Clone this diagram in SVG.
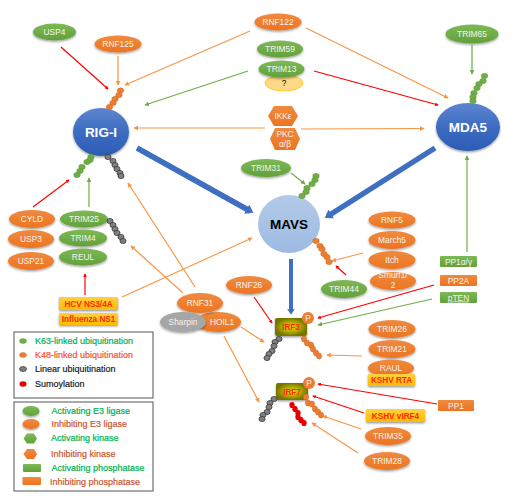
<svg xmlns="http://www.w3.org/2000/svg" width="511" height="500" viewBox="0 0 511 500">
<style>
text{font-family:"Liberation Sans",Arial,sans-serif;text-anchor:middle}
.w{fill:#f4f4ee;font-size:8.4px}
.big{fill:#fff;font-size:13.5px;font-weight:bold}
.y{fill:#ff2a00;font-size:8.2px;font-weight:bold}
.g{fill:url(#gg)}.o{fill:url(#go)}.h{fill:url(#gh)}
.s{filter:url(#sh)}
.gc{fill:#70ad47;stroke:#5b9238;stroke-width:.4}.oc{fill:#ed7d31;stroke:#c8641f;stroke-width:.4}.kc{fill:#7f7f7f;stroke:#333;stroke-width:.7}.rc{fill:#e60000}
.lo{stroke:#f79646;stroke-width:1.2;marker-end:url(#mo)}
.lg{stroke:#70ad47;stroke-width:1.2;marker-end:url(#mg)}
.lr{stroke:#ff0000;stroke-width:1.2;marker-end:url(#mr)}
.lb{stroke:#3f6fc1;stroke-width:5.5;marker-end:url(#mb)}
.box{fill:#fff;stroke:#555;stroke-width:1}
.lt,.lf{font-size:9px;text-anchor:start;stroke-width:.2}
.wavy{text-decoration:underline wavy #e04040}
</style>
<defs>
<linearGradient id="gg" x1="0" y1="0" x2="0" y2="1"><stop offset="0" stop-color="#7dba55"/><stop offset="1" stop-color="#62a03c"/></linearGradient>
<linearGradient id="go" x1="0" y1="0" x2="0" y2="1"><stop offset="0" stop-color="#f08a3e"/><stop offset="1" stop-color="#ec7422"/></linearGradient>
<linearGradient id="gh" x1="0" y1="0" x2="0" y2="1"><stop offset="0" stop-color="#ffd040"/><stop offset="1" stop-color="#ffbb00"/></linearGradient>
<linearGradient id="gblue" x1="0" y1="0" x2="0" y2="1"><stop offset="0" stop-color="#5d85ce"/><stop offset=".5" stop-color="#3c6cc2"/><stop offset="1" stop-color="#2d5cb4"/></linearGradient>
<linearGradient id="gmavs" x1="0" y1="0" x2="0" y2="1"><stop offset="0" stop-color="#b3cae8"/><stop offset="1" stop-color="#9dbbe2"/></linearGradient>
<radialGradient id="girf"><stop offset="0" stop-color="#e8e000"/><stop offset=".6" stop-color="#a8a400"/><stop offset="1" stop-color="#767400"/></radialGradient>
<filter id="sh" x="-20%" y="-20%" width="140%" height="150%"><feDropShadow dx="0" dy="1.3" stdDeviation="0.9" flood-color="#000" flood-opacity=".4"/></filter>
<marker id="mo" markerWidth="4" markerHeight="4" refX="3.4" refY="2" orient="auto"><path d="M0 0L4 2L0 4z" fill="#f79646"/></marker>
<marker id="mg" markerWidth="4" markerHeight="4" refX="3.4" refY="2" orient="auto"><path d="M0 0L4 2L0 4z" fill="#70ad47"/></marker>
<marker id="mr" markerWidth="3" markerHeight="3" refX="2.4" refY="1.5" orient="auto"><path d="M0 0L3 1.500L0 3z" fill="#ff0000"/></marker>
<marker id="mb" markerWidth="1.4" markerHeight="1.9" viewBox="0 0 2 3" preserveAspectRatio="none" refX="1" refY="1.5" orient="auto"><path d="M0 0L2 1.5L0 3z" fill="#3f6fc1"/></marker>
</defs>
<rect width="511" height="500" fill="#fff"/>
<g id="connectors">
<line class="lr" x1="61" y1="47" x2="108" y2="89"/>
<line class="lo" x1="118" y1="56" x2="118" y2="85"/>
<line class="lo" x1="250" y1="31" x2="125" y2="85"/>
<line class="lg" x1="248" y1="71" x2="145" y2="105"/>
<line class="lo" x1="265" y1="128" x2="134" y2="128"/>
<line class="lo" x1="301" y1="129" x2="424" y2="128.5"/>
<line class="lo" x1="306" y1="28" x2="448" y2="98"/>
<line class="lr" x1="314" y1="71" x2="438" y2="105"/>
<line class="lg" x1="472" y1="45" x2="472" y2="74"/>
<line class="lg" x1="467" y1="252" x2="467" y2="156"/>
<line class="lb" x1="137" y1="148" x2="250" y2="211"/>
<line class="lb" x1="435" y1="148" x2="328" y2="216"/>
<line class="lb" style="stroke-width:4" x1="291" y1="259" x2="291" y2="312"/>
<line class="lg" x1="291" y1="173" x2="305" y2="184"/>
<line class="lo" x1="363" y1="253" x2="332" y2="261"/>
<line class="lr" x1="346" y1="275" x2="336" y2="266"/>
<line class="lr" x1="434" y1="285" x2="318" y2="318"/>
<line class="lg" x1="432" y1="299" x2="318" y2="325"/>
<line class="lr" x1="254" y1="297" x2="272" y2="323"/>
<line class="lr" x1="33" y1="207" x2="69" y2="180"/>
<line class="lg" x1="89" y1="207" x2="89" y2="178"/>
<line class="lr" x1="85" y1="295" x2="85" y2="274"/>
<line class="lo" x1="122" y1="297" x2="252" y2="238"/>
<line class="lo" x1="195" y1="287" x2="128" y2="183"/>
<line class="lo" x1="183" y1="293" x2="131" y2="246"/>
<line class="lo" x1="241" y1="327" x2="264" y2="342"/>
<line class="lo" x1="224" y1="336" x2="259" y2="402"/>
<line class="lo" x1="362" y1="356" x2="327" y2="355"/>
<line class="lr" x1="437" y1="404" x2="318" y2="384"/>
<line class="lr" x1="364" y1="413" x2="313" y2="396"/>
<line class="lo" x1="361" y1="429" x2="323" y2="416"/>
<line class="lo" x1="358" y1="453" x2="312" y2="423"/>
</g>
<g id="rigi"><ellipse cx="101" cy="132" rx="28" ry="24" fill="url(#gblue)" class="s"/><text class="big" x="101" y="137">RIG-I</text>
<g class="oc"><ellipse cx="120.5" cy="90.5" rx="3.3" ry="2.7"/><ellipse cx="119" cy="95" rx="3.3" ry="2.7"/><ellipse cx="115" cy="99" rx="3.3" ry="2.7"/><ellipse cx="113" cy="103" rx="3.3" ry="2.7"/><ellipse cx="109.5" cy="107" rx="3.3" ry="2.7"/></g>
<g class="gc"><ellipse cx="91" cy="157" rx="3.3" ry="2.7"/><ellipse cx="90" cy="160" rx="3.3" ry="2.7"/><ellipse cx="87" cy="162" rx="3.3" ry="2.7"/><ellipse cx="82" cy="167" rx="3.3" ry="2.7"/><ellipse cx="80" cy="171" rx="3.3" ry="2.7"/><ellipse cx="77" cy="175" rx="3.3" ry="2.7"/></g>
<g class="kc"><ellipse cx="108" cy="157" rx="3.1" ry="2.6"/><ellipse cx="113" cy="161" rx="3.1" ry="2.6"/><ellipse cx="115" cy="165" rx="3.1" ry="2.6"/><ellipse cx="117" cy="169" rx="3.1" ry="2.6"/><ellipse cx="120" cy="173" rx="3.1" ry="2.6"/><ellipse cx="121" cy="176" rx="3.1" ry="2.6"/></g></g>
<g id="mda5"><ellipse cx="468" cy="127" rx="32" ry="24" fill="url(#gblue)" class="s"/><text class="big" x="468" y="132">MDA5</text>
<g class="gc"><ellipse cx="484.5" cy="76" rx="3.3" ry="2.7"/><ellipse cx="483" cy="81" rx="3.3" ry="2.7"/><ellipse cx="479" cy="84" rx="3.3" ry="2.7"/><ellipse cx="477" cy="88" rx="3.3" ry="2.7"/><ellipse cx="474" cy="93" rx="3.3" ry="2.7"/><ellipse cx="473" cy="97" rx="3.3" ry="2.7"/><ellipse cx="473" cy="101" rx="3.3" ry="2.7"/></g></g>
<g id="mavs"><ellipse cx="289" cy="224" rx="31" ry="29" fill="url(#gmavs)"/><text class="big" x="289" y="229" style="fill:#000">MAVS</text>
<g class="gc"><ellipse cx="316" cy="176" rx="3.3" ry="2.7"/><ellipse cx="315" cy="180" rx="3.3" ry="2.7"/><ellipse cx="312" cy="184" rx="3.3" ry="2.7"/><ellipse cx="307" cy="188" rx="3.3" ry="2.7"/><ellipse cx="306" cy="192" rx="3.3" ry="2.7"/><ellipse cx="302" cy="196" rx="3.3" ry="2.7"/></g>
<g class="oc"><ellipse cx="316" cy="241" rx="3.3" ry="2.7"/><ellipse cx="320" cy="246" rx="3.3" ry="2.7"/><ellipse cx="322" cy="249" rx="3.3" ry="2.7"/><ellipse cx="324" cy="254" rx="3.3" ry="2.7"/><ellipse cx="327" cy="257" rx="3.3" ry="2.7"/><ellipse cx="329" cy="262" rx="3.3" ry="2.7"/></g></g>
<g id="usp4"><ellipse class="g s" cx="54.5" cy="32" rx="21.5" ry="8.5"/><text class="w" x="54.5" y="35">USP4</text></g>
<g id="rnf125"><ellipse class="o s" cx="118" cy="44" rx="23.5" ry="8.5"/><text class="w" x="118" y="47">RNF125</text></g>
<g id="rnf122"><ellipse class="o s" cx="278" cy="22" rx="23.5" ry="8.5"/><text class="w" x="278" y="25">RNF122</text></g>
<g id="trim59"><ellipse class="g s" cx="280" cy="49" rx="23" ry="8.5"/><text class="w" x="280" y="52">TRIM59</text></g>
<g id="unknown"><ellipse cx="284" cy="83" rx="19" ry="8" fill="#ffd98a" stroke="#ffc000" stroke-width=".8"/><text x="284" y="86" font-size="8.2" fill="#000">?</text></g>
<g id="trim13"><ellipse class="g s" cx="281.5" cy="69" rx="23" ry="8.5"/><text class="w" x="281.5" y="72">TRIM13</text></g>
<g id="trim65"><ellipse class="g s" cx="472" cy="34" rx="26.5" ry="9.5"/><text class="w" x="472" y="37">TRIM65</text></g>
<g id="ikke"><path class="o" d="M268 116L274 106H292L298 116L292 126H274Z"/><text class="w" x="283" y="119">IKKε</text></g>
<g id="pkc"><path class="o" d="M270 139L275 128H295L300 139L295 150H275Z"/><text class="w" x="285" y="137">PKC</text><text class="w" x="285" y="147">α/β</text></g>
<g id="trim31"><ellipse class="g s" cx="266" cy="168" rx="25" ry="9"/><text class="w" x="266" y="171">TRIM31</text></g>
<g id="rnf5"><ellipse class="o s" cx="392" cy="220" rx="23.5" ry="8.5"/><text class="w" x="392" y="223">RNF5</text></g>
<g id="march5"><ellipse class="o s" cx="392" cy="240" rx="23.5" ry="9"/><text class="w" x="392" y="243">March5</text></g>
<g id="itch"><ellipse class="o s" cx="392" cy="260" rx="23.5" ry="9"/><text class="w" x="392" y="263">Itch</text></g>
<g id="smurf"><ellipse class="o s" cx="393" cy="281" rx="23" ry="9"/><text class="w" x="393" y="278">Smurf1/</text><text class="w" x="393" y="288">2</text></g>
<g id="trim44"><ellipse class="g s" cx="344" cy="289" rx="23" ry="9"/><text class="w" x="344" y="292">TRIM44</text></g>
<g id="pp1ay"><rect class="g" x="440" y="256" width="37" height="11" rx="1"/><text class="w" x="458.5" y="264.5">PP1α/γ</text></g>
<g id="pp2a"><rect class="o" x="440" y="275" width="37" height="11" rx="1"/><text class="w" x="458.5" y="283.5">PP2A</text></g>
<g id="pten"><rect class="g" x="440" y="292" width="37" height="11" rx="1"/><text class="w wavy" x="458.5" y="300.5">pTEN</text></g>
<g id="rnf26"><ellipse class="o s" cx="249" cy="285" rx="23" ry="9"/><text class="w" x="249" y="288">RNF26</text></g>
<g id="cyld"><ellipse class="o s" cx="32" cy="219" rx="23" ry="9"/><text class="w" x="32" y="222">CYLD</text></g>
<g id="usp3"><ellipse class="o s" cx="31" cy="239" rx="23" ry="9"/><text class="w" x="31" y="242">USP3</text></g>
<g id="usp21"><ellipse class="o s" cx="31" cy="261" rx="23" ry="9"/><text class="w" x="31" y="264">USP21</text></g>
<g id="trim25"><ellipse class="g s" cx="84" cy="219" rx="24" ry="8.5"/><text class="w" x="84" y="222">TRIM25</text>
<g class="kc"><ellipse cx="110" cy="221" rx="3.1" ry="2.6"/><ellipse cx="113" cy="225" rx="3.1" ry="2.6"/><ellipse cx="115" cy="229" rx="3.1" ry="2.6"/><ellipse cx="117" cy="233" rx="3.1" ry="2.6"/><ellipse cx="121" cy="237" rx="3.1" ry="2.6"/><ellipse cx="123" cy="241" rx="3.1" ry="2.6"/></g></g>
<g id="trim4"><ellipse class="g s" cx="83" cy="238" rx="24" ry="8.5"/><text class="w" x="83" y="241">TRIM4</text></g>
<g id="reul"><ellipse class="g s" cx="83" cy="257" rx="24" ry="8.5"/><text class="w" x="83" y="260">REUL</text></g>
<g id="hcv"><rect class="h s" x="59" y="297" width="59" height="13" rx="1"/><text class="y" x="88.5" y="306.5">HCV NS3/4A</text></g>
<g id="influenza"><rect class="h s" x="59" y="313" width="59" height="12" rx="1"/><text class="y" x="88.5" y="322">Influenza NS1</text></g>
<g id="hoil1"><ellipse class="o s" cx="218" cy="322" rx="23" ry="10"/><text class="w" x="222" y="325">HOIL1</text></g>
<g id="rnf31"><ellipse class="o s" cx="200" cy="303" rx="23" ry="10"/><text class="w" x="200" y="306">RNF31</text></g>
<g id="sharpin"><ellipse cx="183" cy="322" rx="23" ry="10" fill="#a6a6a6" class="s"/><text class="w" x="183" y="325">Sharpin</text></g>
<g id="irf3"><rect x="275" y="318" width="32" height="18" rx="2" fill="url(#girf)" class="s"/><text class="y" x="291" y="330">IRF3</text>
<circle cx="308" cy="318" r="6" fill="#ed7d31"/><text class="w" x="308" y="321">P</text>
<g class="kc"><ellipse cx="279" cy="339" rx="3.1" ry="2.6"/><ellipse cx="275" cy="342" rx="3.1" ry="2.6"/><ellipse cx="274" cy="346" rx="3.1" ry="2.6"/><ellipse cx="272" cy="351" rx="3.1" ry="2.6"/><ellipse cx="269" cy="354" rx="3.1" ry="2.6"/><ellipse cx="267" cy="358" rx="3.1" ry="2.6"/></g>
<g class="oc"><ellipse cx="304" cy="339" rx="2.7" ry="3.1"/><ellipse cx="307" cy="343" rx="2.7" ry="3.1"/><ellipse cx="311" cy="345" rx="2.7" ry="3.1"/><ellipse cx="313" cy="349" rx="2.7" ry="3.1"/><ellipse cx="316" cy="353" rx="2.7" ry="3.1"/><ellipse cx="319" cy="356" rx="2.7" ry="3.1"/></g></g>
<g id="irf7"><rect x="276" y="383" width="32" height="17" rx="2" fill="url(#girf)" class="s"/><text class="y" x="292" y="394.5">IRF7</text>
<circle cx="309" cy="383" r="6" fill="#ed7d31"/><text class="w" x="309" y="386">P</text>
<g class="kc"><ellipse cx="274" cy="399" rx="3.1" ry="2.6"/><ellipse cx="270" cy="403" rx="3.1" ry="2.6"/><ellipse cx="269" cy="407" rx="3.1" ry="2.6"/><ellipse cx="267" cy="412" rx="3.1" ry="2.6"/><ellipse cx="263" cy="415" rx="3.1" ry="2.6"/><ellipse cx="262" cy="419" rx="3.1" ry="2.6"/></g>
<g class="oc"><ellipse cx="306" cy="397" rx="2.7" ry="3.1"/><ellipse cx="308" cy="403" rx="2.7" ry="3.1"/><ellipse cx="312" cy="404" rx="2.7" ry="3.1"/><ellipse cx="315" cy="409" rx="2.7" ry="3.1"/><ellipse cx="318" cy="412" rx="2.7" ry="3.1"/><ellipse cx="321" cy="415" rx="2.7" ry="3.1"/></g>
<g class="rc"><ellipse cx="292" cy="405" rx="2.7" ry="3.1"/><ellipse cx="295" cy="409" rx="2.7" ry="3.1"/><ellipse cx="298" cy="413" rx="2.7" ry="3.1"/><ellipse cx="298" cy="417" rx="2.7" ry="3.1"/><ellipse cx="301" cy="420" rx="2.7" ry="3.1"/><ellipse cx="304" cy="423" rx="2.7" ry="3.1"/></g></g>
<g id="trim26"><ellipse class="o s" cx="392" cy="329" rx="23.5" ry="9"/><text class="w" x="392" y="332">TRIM26</text></g>
<g id="trim21"><ellipse class="o s" cx="392" cy="349" rx="23.5" ry="9"/><text class="w" x="392" y="352">TRIM21</text></g>
<g id="raul"><ellipse class="o s" cx="391" cy="368" rx="23" ry="8.5"/><text class="w" x="391" y="371">RAUL</text></g>
<g id="kshvrta"><rect class="h s" x="368" y="374" width="47" height="12" rx="1"/><text class="y" x="391.5" y="383">KSHV RTA</text></g>
<g id="pp1"><rect class="o" x="438" y="400" width="36" height="11" rx="1"/><text class="w" x="456" y="408.5">PP1</text></g>
<g id="kshvirf4"><rect class="h s" x="366" y="409" width="59" height="13" rx="1"/><text class="y" x="395.5" y="418.5">KSHV vIRF4</text></g>
<g id="trim35"><ellipse class="o s" cx="388" cy="436" rx="23" ry="9"/><text class="w" x="388" y="439">TRIM35</text></g>
<g id="trim28"><ellipse class="o s" cx="387" cy="461" rx="23" ry="9"/><text class="w" x="387" y="464">TRIM28</text></g>
<g id="legend-modifications"><rect class="box" x="14" y="332" width="139" height="66"/>
<ellipse class="gc" cx="23" cy="341" rx="3.5" ry="2.5"/><text class="lt" x="35" y="344" fill="#00b050" stroke="#00b050">K63-linked ubiquitination</text>
<ellipse class="oc" cx="23" cy="355" rx="3.5" ry="2.5"/><text class="lt" x="35" y="358" fill="#ff4b2b" stroke="#ff4b2b">K48-linked ubiquitination</text>
<ellipse class="kc" cx="23" cy="369" rx="3.5" ry="2.5"/><text class="lt" x="35" y="371.5" fill="#222" stroke="#222">Linear ubiquitination</text>
<ellipse class="rc" cx="23" cy="384" rx="3.5" ry="2.8"/><text class="lt" x="35" y="387" fill="#222" stroke="#222">Sumoylation</text></g>
<g id="legend-enzymes"><rect class="box" x="14" y="402" width="139" height="89"/>
<ellipse class="g s" cx="31" cy="411" rx="8.5" ry="5"/><text class="lf" x="51.5" y="414" fill="#00b050" stroke="#00b050">Activating E3 ligase</text>
<ellipse class="o s" cx="31" cy="424" rx="8.5" ry="5"/><text class="lf" x="51.5" y="427" fill="#c9552f" stroke="#c9552f">Inhibiting E3 ligase</text>
<path class="g" d="M23.5 438.5L27 433.5H34L37 438.5L34 443.5H27Z"/><text class="lf" x="51" y="441" fill="#00b050" stroke="#00b050">Activating kinase</text>
<path class="o" d="M23.5 454L27 449H34L37 454L34 459H27Z"/><text class="lf" x="51" y="457" fill="#c9552f" stroke="#c9552f">Inhibiting kinase</text>
<rect class="g" x="23" y="464" width="18" height="8" rx="1"/><text class="lf" x="51.5" y="471" fill="#00b050" stroke="#00b050">Activating phosphatase</text>
<rect class="o" x="22.5" y="477" width="18.5" height="8" rx="1"/><text class="lf" x="50" y="485" fill="#c9552f" stroke="#c9552f">Inhibiting phosphatase</text></g>
</svg>
